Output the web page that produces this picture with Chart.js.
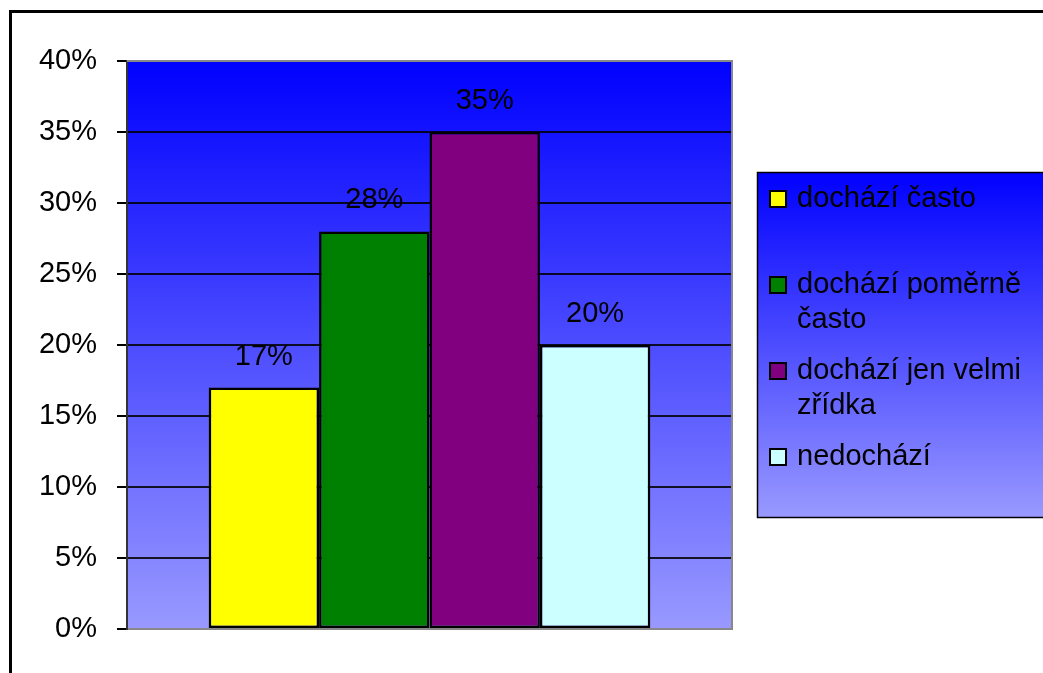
<!DOCTYPE html>
<html>
<head>
<meta charset="utf-8">
<script src="https://cdn.jsdelivr.net/npm/chart.js@4"></script>
<style>
  body { margin: 0; background: #fff; }
</style>
</head>
<body>
<canvas id="chart" width="1043" height="673"></canvas>
<script>
const categories = [''];
const seriesNames = ['dochází často', 'dochází poměrně často', 'dochází jen velmi zřídka', 'nedochází'];
const seriesValues = [17, 28, 35, 20];
const seriesColors = ['#ffff00', '#008000', '#800080', '#ccffff'];
const yTickValues = [0, 5, 10, 15, 20, 25, 30, 35, 40];

const FONT = '"Liberation Sans", Arial, sans-serif';
const FONT_SIZE = 29;

function blueGradient(ctx, top, bottom) {
    const g = ctx.createLinearGradient(0, top, 0, bottom);
    g.addColorStop(0, '#0000ff');
    g.addColorStop(1, '#9999ff');
    return g;
}

// frame around the whole chart + gradient plot area
const backdrop = {
    id: 'backdrop',
    beforeDraw(chart) {
        const { ctx, chartArea: a } = chart;
        ctx.save();
        ctx.fillStyle = '#000';
        ctx.fillRect(9, 10, chart.width, 3);
        ctx.fillRect(9, 10, 3, chart.height);
        ctx.fillStyle = blueGradient(ctx, a.top, a.bottom);
        ctx.fillRect(a.left, a.top, a.right - a.left, a.bottom - a.top);
        ctx.restore();
    },
    beforeDatasetsDraw(chart) {
        const { ctx, chartArea: a } = chart;
        ctx.save();
        ctx.strokeStyle = '#888';
        ctx.lineWidth = 2;
        ctx.beginPath();
        ctx.moveTo(a.left, a.top);
        ctx.lineTo(a.right, a.top);
        ctx.lineTo(a.right, a.bottom);
        ctx.stroke();
        ctx.restore();
    }
};

// percent labels above the bars
const valueLabels = {
    id: 'valueLabels',
    afterDatasetsDraw(chart) {
        const ctx = chart.ctx;
        ctx.save();
        ctx.font = FONT_SIZE + 'px ' + FONT;
        ctx.fillStyle = '#000';
        ctx.textAlign = 'center';
        ctx.textBaseline = 'middle';
        chart.data.datasets.forEach((ds, i) => {
            const bar = chart.getDatasetMeta(i).data[0];
            ctx.fillText(ds.data[0] + '%', bar.x, bar.y - 31);
        });
        ctx.restore();
    }
};

function wrapText(ctx, text, maxWidth) {
    const words = text.split(' ');
    const lines = [];
    let line = '';
    for (const w of words) {
        const test = line ? line + ' ' + w : w;
        if (line && ctx.measureText(test).width > maxWidth) {
            lines.push(line);
            line = w;
        } else {
            line = test;
        }
    }
    if (line) lines.push(line);
    return lines;
}

// legend box on the right
const sideLegend = {
    id: 'sideLegend',
    afterDraw(chart) {
        const ctx = chart.ctx;
        const box = { x: 757, y: 172, w: 300, h: 345 };
        ctx.save();
        ctx.fillStyle = blueGradient(ctx, box.y, box.y + box.h);
        ctx.fillRect(box.x, box.y, box.w, box.h);
        ctx.strokeStyle = '#000';
        ctx.lineWidth = 1.5;
        ctx.strokeRect(box.x + 0.5, box.y + 0.5, box.w, box.h);

        ctx.font = FONT_SIZE + 'px ' + FONT;
        ctx.textBaseline = 'middle';
        ctx.textAlign = 'left';
        chart.data.datasets.forEach((ds, i) => {
            const cy = 199 + i * 86;
            ctx.fillStyle = ds.backgroundColor;
            ctx.fillRect(770, cy - 8, 16, 16);
            ctx.strokeStyle = '#000';
            ctx.lineWidth = 2;
            ctx.strokeRect(770, cy - 8, 16, 16);
            ctx.fillStyle = '#000';
            wrapText(ctx, ds.label, 240).forEach((ln, k) => {
                ctx.fillText(ln, 797, cy + k * 35);
            });
        });
        ctx.restore();
    }
};

new Chart(document.getElementById('chart'), {
    type: 'bar',
    data: {
        labels: categories,
        datasets: seriesNames.map((name, i) => ({
            label: name,
            data: [seriesValues[i]],
            backgroundColor: seriesColors[i],
            borderColor: '#000',
            borderWidth: 2.5,
            borderSkipped: false
        }))
    },
    options: {
        responsive: false,
        animation: false,
        categoryPercentage: 0.73,
        barPercentage: 1.0,
        layout: { padding: { left: 0, top: 61, right: 311, bottom: 0 } },
        plugins: {
            legend: { display: false },
            tooltip: { enabled: false }
        },
        scales: {
            x: {
                grid: { display: false },
                border: { color: '#888', width: 2 },
                ticks: { display: false },
                afterFit(scale) { scale.height = 44; }
            },
            y: {
                min: 0,
                max: 40,
                afterBuildTicks(scale) {
                    scale.ticks = yTickValues.map(v => ({ value: v }));
                },
                afterFit(scale) { scale.width = 127; },
                border: { color: '#333', width: 2 },
                grid: {
                    color: c => c.tick && c.tick.value === 40 ? '#888' : 'rgba(0,0,0,0.85)',
                    lineWidth: 2,
                    tickLength: 10,
                    tickColor: '#000'
                },
                ticks: {
                    padding: 20,
                    color: '#000',
                    font: { family: FONT, size: FONT_SIZE },
                    callback: v => v + '%'
                }
            }
        }
    },
    plugins: [backdrop, valueLabels, sideLegend]
});
</script>
</body>
</html>
